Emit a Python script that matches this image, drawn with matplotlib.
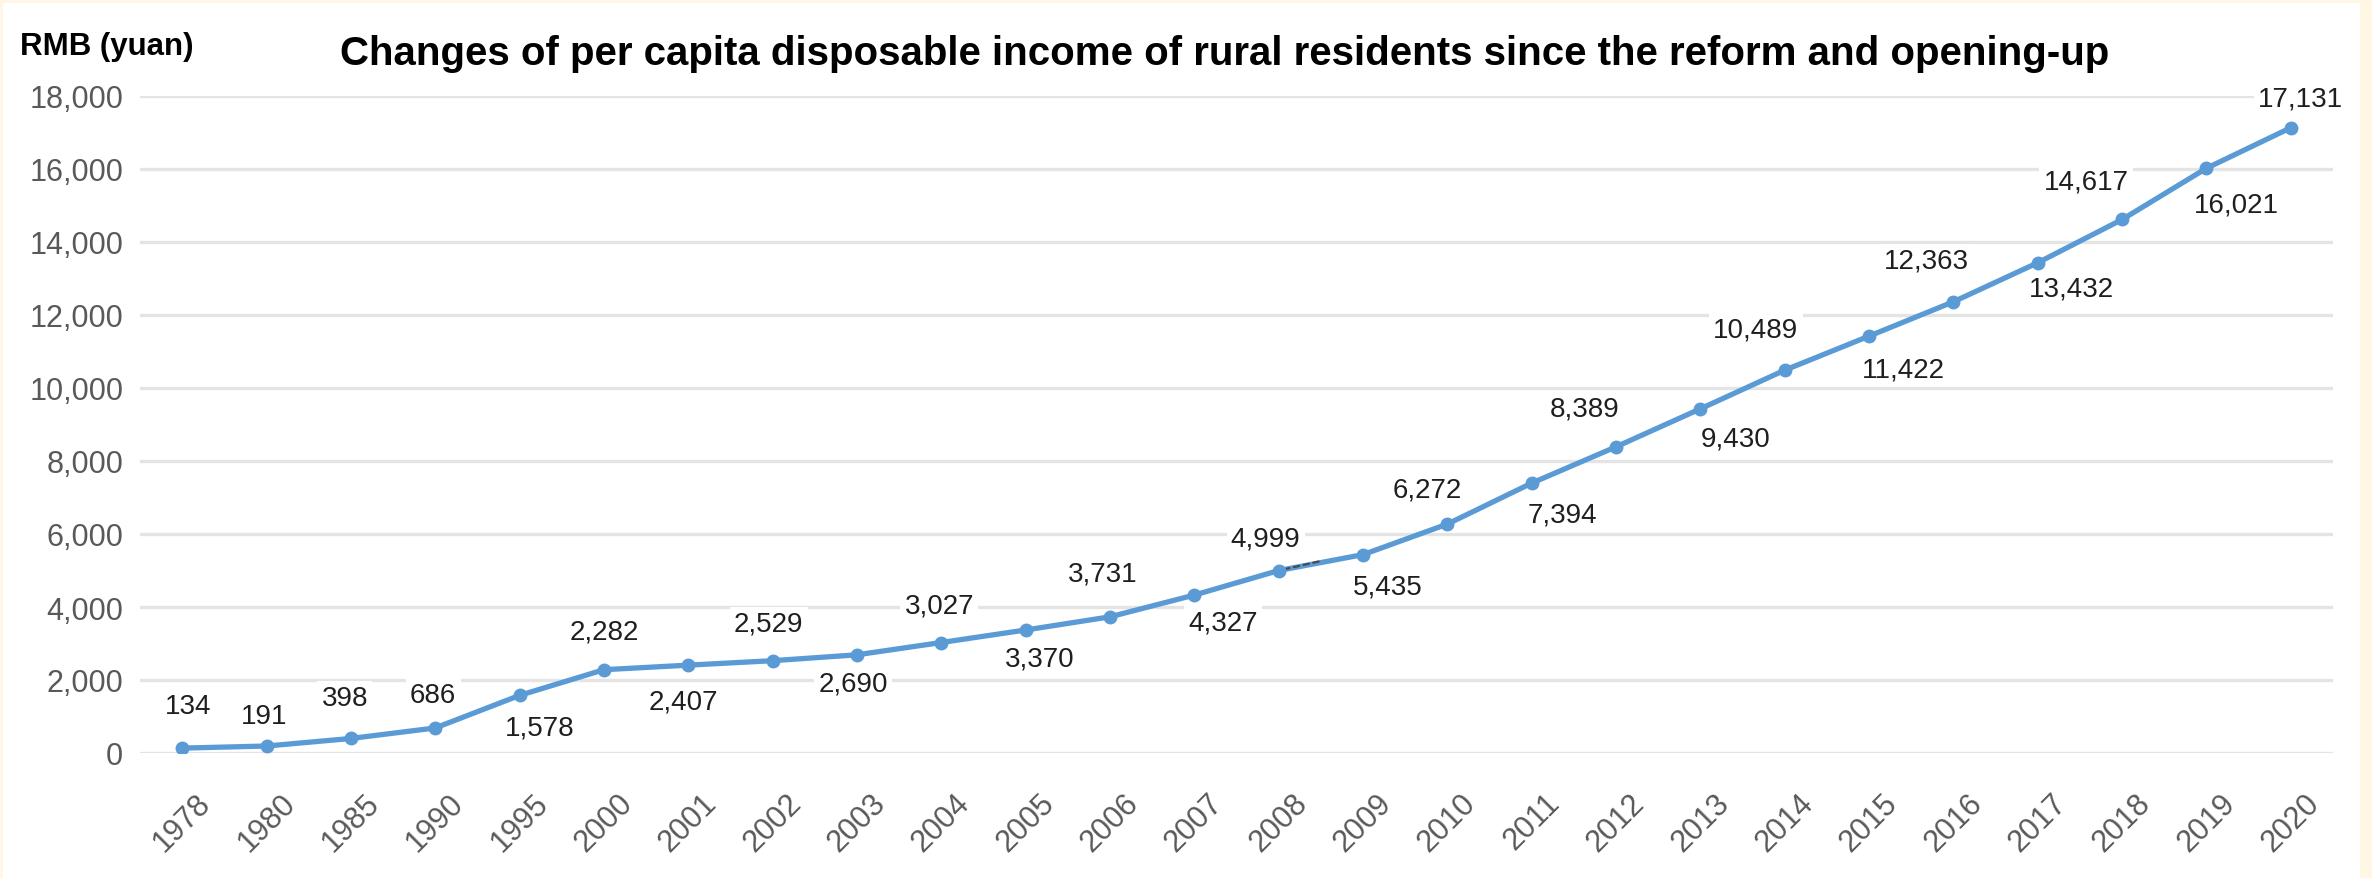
import matplotlib
matplotlib.use("Agg")
import matplotlib.pyplot as plt
from matplotlib.patches import Rectangle
from matplotlib.ticker import FuncFormatter, MultipleLocator

# Per capita disposable income of rural residents (RMB yuan)
years = ["1978", "1980", "1985", "1990", "1995", "2000", "2001", "2002", "2003",
         "2004", "2005", "2006", "2007", "2008", "2009", "2010", "2011", "2012",
         "2013", "2014", "2015", "2016", "2017", "2018", "2019", "2020"]
income = [134, 191, 398, 686, 1578, 2282, 2407, 2529, 2690, 3027, 3370, 3731,
          4327, 4999, 5435, 6272, 7394, 8389, 9430, 10489, 11422, 12363, 13432,
          14617, 16021, 17131]

# Data-label placement relative to each marker, in pixels (x right, y up)
label_dx = [6, -2, -6, -2, 20, 0, -5, -4, -4, -2, 14, -7, 29, -13, 25, -20,
            31, -31, 35, -29, 34, -27, 34, -36, 30, 10]
label_dy = [42, 30, 40, 33, -32, 38, -36, 37, -29, 37, -29, 43, -27, 32, -32,
            35, -31, 38, -30, 41, -33, 41, -26, 38, -36, 29]

W, H, DPI = 2372, 879, 100
CREAM = "#FFF6E3"
LINE_BLUE = "#5B9BD5"
GRID = "#E4E4E4"
AXIS_TEXT = "#595959"
LABEL_TEXT = "#1F1F1F"
FONT = ["Liberation Sans", "DejaVu Sans"]

plt.rcParams["font.family"] = FONT

fig = plt.figure(figsize=(W / DPI, H / DPI), dpi=DPI)
fig.patch.set_facecolor(CREAM)
# white chart panel inside the cream frame
panel = Rectangle((3 / W, 0), (2360 - 3) / W, (H - 4) / H,
                  transform=fig.transFigure, facecolor="white",
                  edgecolor="none", zorder=-10)
fig.add_artist(panel)

ax_left, ax_right = 140 / W, 2333 / W
ax_top, ax_bottom = 1 - 97 / H, 1 - 754 / H
ax = fig.add_axes([ax_left, ax_bottom, ax_right - ax_left, ax_top - ax_bottom])
ax.set_facecolor("none")
ax.set_zorder(1)

x = list(range(len(years)))
ax.plot(x, income, color=LINE_BLUE, lw=3.8, marker="o", markersize=9,
        markerfacecolor=LINE_BLUE, markeredgecolor=LINE_BLUE, zorder=4,
        solid_capstyle="round")

ax.set_xlim(-0.5, len(years) - 0.5)
ax.set_ylim(0, 18000)
ax.yaxis.set_major_locator(MultipleLocator(2000))
ax.yaxis.set_major_formatter(FuncFormatter(lambda v, _: f"{int(v):,}"))
ax.grid(axis="y", color=GRID, lw=2.4, zorder=0)
ax.set_axisbelow(True)
for s in ax.spines.values():
    s.set_visible(False)

ax.set_xticks(x)
ax.set_xticklabels(years, rotation=45, ha="center", fontsize=22,
                   color=AXIS_TEXT)
ax.tick_params(axis="x", length=0, pad=25)
ax.tick_params(axis="y", length=0, pad=12, labelsize=22, labelcolor=AXIS_TEXT)

for i, v in enumerate(income):
    ax.annotate(f"{v:,}", xy=(i, v), xycoords="data",
                xytext=(label_dx[i], label_dy[i]), textcoords="offset pixels",
                ha="center", va="center", fontsize=20, color=LABEL_TEXT,
                zorder=3,
                bbox=dict(boxstyle="square,pad=0.15", facecolor="white",
                          edgecolor="none"))

# short dashed leader next to the 2008 value
i08 = years.index("2008")
ax.annotate("", xy=(i08, income[i08]), xycoords="data",
            xytext=(40, 9), textcoords="offset pixels",
            arrowprops=dict(arrowstyle="-", color="#4a4a4a", lw=1.6,
                            linestyle=(0, (2.5, 2.0)), shrinkA=0, shrinkB=6),
            zorder=5)

fig.text(1225 / W, 1 - 54 / H,
         "Changes of per capita disposable income of rural residents since "
         "the reform and opening-up",
         ha="center", va="center", fontsize=29, fontweight="bold",
         color="black")
fig.text(20 / W, 1 - 47 / H, "RMB (yuan)", ha="left", va="center",
         fontsize=22.5, fontweight="bold", color="black")

fig.savefig("out.png", dpi=DPI, facecolor=fig.get_facecolor())
